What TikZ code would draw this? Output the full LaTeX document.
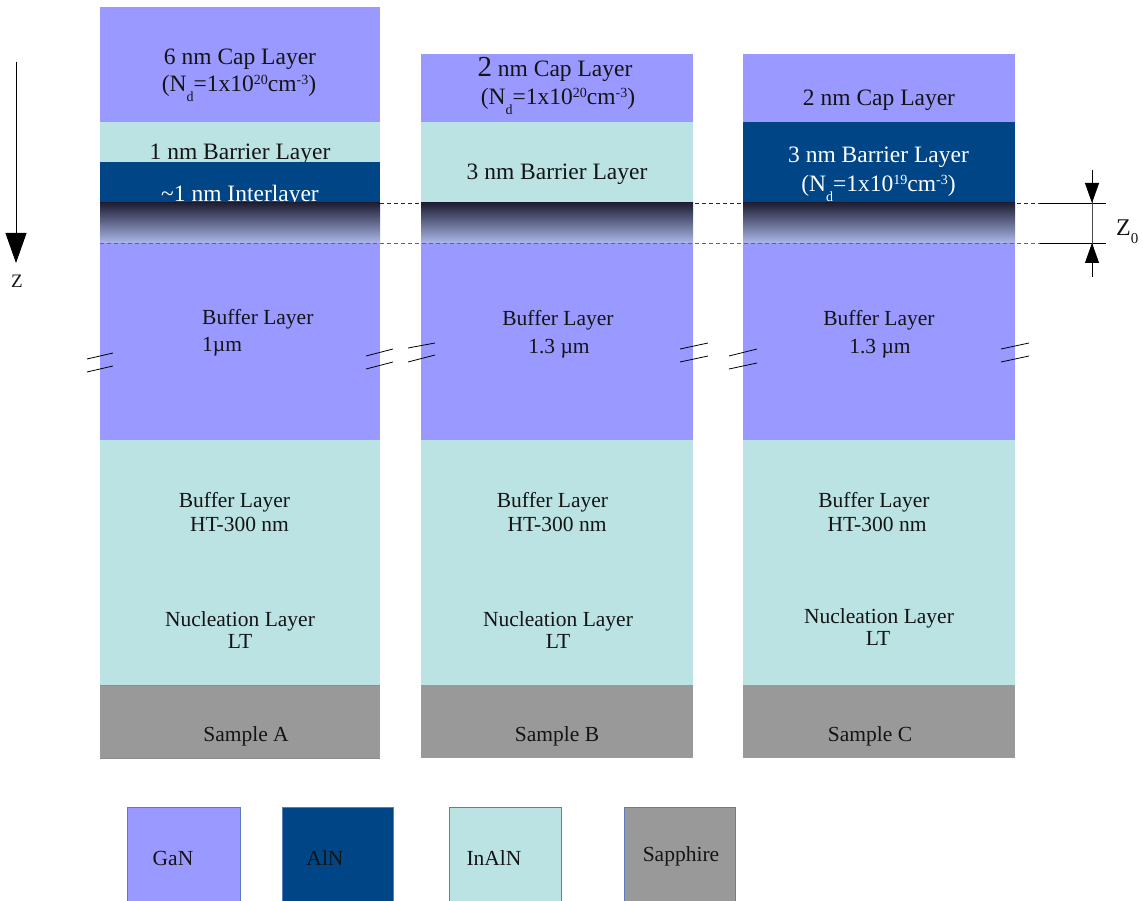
\documentclass[tikz,border=0pt]{standalone}
\usepackage{fontspec}
\setmainfont{Liberation Serif}
\usetikzlibrary{arrows.meta}
\definecolor{gan}{HTML}{9999FF}
\definecolor{aln}{HTML}{004586}
\definecolor{inaln}{HTML}{BBE3E3}
\definecolor{sapph}{HTML}{999999}
\definecolor{gtop}{HTML}{1E1E34}
\definecolor{gmid}{HTML}{5E6390}
\definecolor{gbot}{HTML}{ABB8EA}
\definecolor{legline}{HTML}{5E7CBA}
\definecolor{txt}{HTML}{141414}
\newcommand{\mysb}[1]{\raisebox{-0.42em}{\fontsize{14}{14}\selectfont #1}}
\newcommand{\mysp}[1]{\raisebox{0.32em}{\fontsize{14}{14}\selectfont #1}}
\tikzset{
  toptxt/.style={font=\fontsize{23.5}{28}\selectfont, inner sep=0pt, anchor=base, text=txt},
  lowtxt/.style={font=\fontsize{21.5}{26}\selectfont, inner sep=0pt, anchor=base, text=txt},
  whitetxt/.style={text=white},
  brk/.style={line width=0.8pt, black},
  ifline/.style={dash pattern=on 4pt off 3pt, line width=0.7pt, black!85},
  ifline2/.style={dash pattern=on 4pt off 3pt, line width=0.7pt, black!60},
  legbox/.style={line width=0.8pt, legline},
}
\begin{document}
\begin{tikzpicture}[x=1pt,y=-1pt]
\useasboundingbox (0,0) rectangle (1143,901);

% ---------------- Column A ----------------
\fill[gan] (100,7) rectangle (380,122);
\fill[inaln] (100,122) rectangle (380,162);
\node[toptxt] (barA) at (240,160) {1 nm Barrier Layer};
\fill[aln] (100,162) rectangle (380,203);
\node[toptxt,whitetxt] (intA) at (240,202) {\char"7E 1 nm Interlayer};
\shade[top color=gtop, middle color=gmid, bottom color=gbot] (100,203) rectangle (380,243);
\fill[gan] (100,243) rectangle (380,440);
\fill[inaln] (100,440) rectangle (380,685);
\fill[sapph] (100,685) rectangle (380,758);
\draw[black!45, line width=0.5pt] (100,685) -- (380,685) (100,758) -- (380,758);

\node[toptxt] (capA1) at (240,65) {6 nm Cap Layer};
\node[toptxt] (capA2) at (239,92) {(N\mysb{d}=1x10\mysp{20}cm\mysp{-3})};
\node[lowtxt, anchor=base west] (bufA1) at (202,324) {Buffer Layer};
\node[lowtxt, anchor=base west] (bufA2) at (202,351) {1µm};
\node[lowtxt] (htA1) at (234.5,507) {Buffer Layer};
\node[lowtxt] (htA2) at (239.5,531) {HT-300 nm};
\node[lowtxt] (nucA1) at (240,626) {Nucleation Layer};
\node[lowtxt] (nucA2) at (240,648) {LT};
\node[lowtxt] (samA) at (246,741) {Sample A};

% ---------------- Column B ----------------
\fill[gan] (421,54) rectangle (693,122);
\fill[inaln] (421,122) rectangle (693,203);
\shade[top color=gtop, middle color=gmid, bottom color=gbot] (421,203) rectangle (693,243);
\fill[gan] (421,243) rectangle (693,440);
\fill[inaln] (421,440) rectangle (693,685);
\fill[sapph] (421,685) rectangle (693,758);

\node[toptxt] (capB1) at (555,77) {{\fontsize{29}{30}\selectfont 2} nm Cap Layer};
\node[toptxt] (capB2) at (558,105) {(N\mysb{d}=1x10\mysp{20}cm\mysp{-3})};
\node[toptxt] (barB) at (557,180) {3 nm Barrier Layer};
\node[lowtxt] (bufB1) at (558,326) {Buffer Layer};
\node[lowtxt] (bufB2) at (559,353) {1.3 µm};
\node[lowtxt] (htB1) at (552.5,507) {Buffer Layer};
\node[lowtxt] (htB2) at (557,531) {HT-300 nm};
\node[lowtxt] (nucB1) at (558,626) {Nucleation Layer};
\node[lowtxt] (nucB2) at (558,648) {LT};
\node[lowtxt] (samB) at (557,741) {Sample B};

% ---------------- Column C ----------------
\fill[gan] (743,54) rectangle (1015,122);
\fill[aln] (743,122) rectangle (1015,203);
\shade[top color=gtop, middle color=gmid, bottom color=gbot] (743,203) rectangle (1015,243);
\fill[gan] (743,243) rectangle (1015,440);
\fill[inaln] (743,440) rectangle (1015,685);
\fill[sapph] (743,685) rectangle (1015,758);

\node[toptxt] (capC) at (879,106) {2 nm Cap Layer};
\node[toptxt,whitetxt] (barC1) at (878.5,163) {3 nm Barrier Layer};
\node[toptxt,whitetxt] (barC2) at (878.5,192) {(N\mysb{d}=1x10\mysp{19}cm\mysp{-3})};
\node[lowtxt] (bufC1) at (879,326) {Buffer Layer};
\node[lowtxt] (bufC2) at (880,353) {1.3 µm};
\node[lowtxt] (htC1) at (874,507) {Buffer Layer};
\node[lowtxt] (htC2) at (877,531) {HT-300 nm};
\node[lowtxt] (nucC1) at (879,623) {Nucleation Layer};
\node[lowtxt] (nucC2) at (878,645) {LT};
\node[lowtxt] (samC) at (870,741) {Sample C};

% ---------------- interface lines ----------------
\coordinate (i1a) at (100,203);
\coordinate (i1b) at (1040,203);
\coordinate (i2a) at (100,243);
\coordinate (i2b) at (1040,243);
\draw[ifline] (i1a) -- (i1b);
\draw[ifline2] (i2a) -- (i2b);

% Z0 dimension
\coordinate (d1a) at (1040,203);
\coordinate (d1b) at (1106,203);
\coordinate (d2a) at (1040,243);
\coordinate (d2b) at (1106,243);
\draw[line width=0.8pt] (d1a) -- (d1b);
\draw[line width=0.8pt] (d2a) -- (d2b);
\coordinate (zt) at (1092,170);
\coordinate (zb) at (1092,277);
\coordinate (zt1) at (1092,203);
\coordinate (zb1) at (1092,243);
\draw[line width=0.8pt, black!70] (zt) -- (zb);
\draw[line width=0.8pt, -{Triangle[length=20pt,width=14pt]}] (zt) -- (zt1);
\draw[line width=0.8pt, -{Triangle[length=20pt,width=14pt]}] (zb) -- (zb1);
\node[font=\fontsize{24}{26}\selectfont, inner sep=0pt, anchor=base west, text=txt] (zlab) at (1116,236) {Z\raisebox{-0.3em}{\fontsize{15}{15}\selectfont 0}};

% Z axis arrow
\coordinate (za) at (16,62);
\coordinate (zc) at (16,263);
\draw[line width=0.9pt, -{Triangle[length=30pt,width=21pt]}] (za) -- (zc);
\node[font=\fontsize{19}{20}\selectfont, inner sep=0pt, anchor=base, text=txt] (zaxis) at (17,288) {Z};

% ---------------- break marks ----------------
\draw[brk] (87,359) -- (113,353) (87,372) -- (113,366);
\draw[brk] (366,356) -- (393,349) (366,369) -- (393,362);
\draw[brk] (408,348) -- (435,343) (408,362) -- (435,355);
\draw[brk] (680,349) -- (708,343) (680,362) -- (708,356);
\draw[brk] (729,356) -- (757,349) (729,369) -- (757,363);
\draw[brk] (1001,349) -- (1029,343) (1001,362) -- (1029,356);

% ---------------- legend ----------------
\fill[gan] (127,807) rectangle (240,901);
\draw[legbox] (127,901) -- (127,807) -- (240,807) -- (240,901);
\fill[aln] (282,807) rectangle (393,901);
\draw[legbox] (282,901) -- (282,807) -- (393,807) -- (393,901);
\fill[inaln] (449,807) rectangle (561,901);
\draw[legbox] (449,901) -- (449,807) -- (561,807) -- (561,901);
\fill[sapph] (624,807) rectangle (735,901);
\draw[legbox] (624,901) -- (624,807) -- (735,807) -- (735,901);
\node[lowtxt] (lgan) at (173,865) {GaN};
\node[lowtxt] (laln) at (325,865) {AlN};
\node[lowtxt] (linaln) at (494,865) {InAlN};
\node[lowtxt] (lsapph) at (681,861) {Sapphire};
\end{tikzpicture}
\end{document}
